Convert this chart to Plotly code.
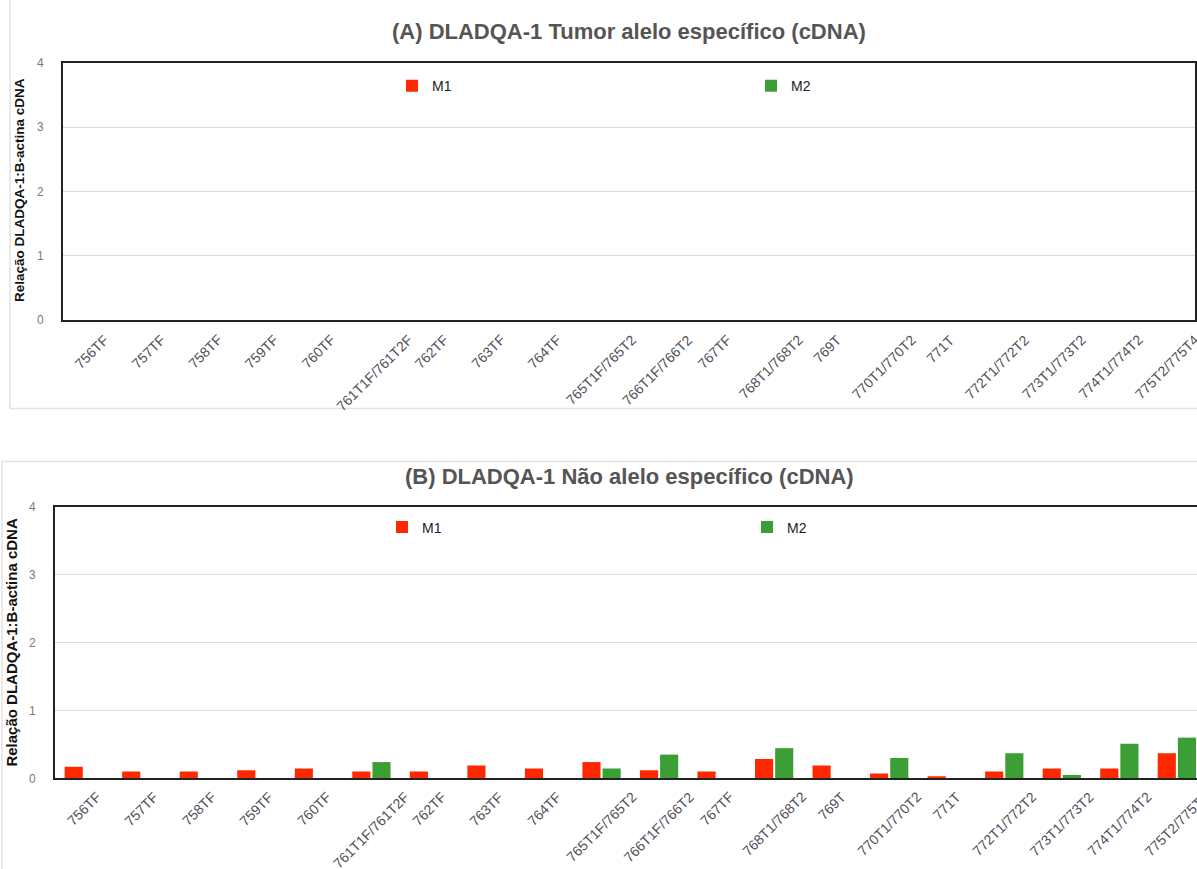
import plotly.graph_objects as go

W, H = 1197, 869

categories = [
    "756TF", "757TF", "758TF", "759TF", "760TF", "761T1F/761T2F", "762TF",
    "763TF", "764TF", "765T1F/765T2", "766T1F/766T2", "767TF", "768T1/768T2",
    "769T", "770T1/770T2", "771T", "772T1/772T2", "773T1/773T2",
    "774T1/774T2", "775T2/775T4",
]

# (A) allele-specific tumour expression: no detectable signal
a_m1 = [0.0] * 20
a_m2 = [0.0] * 20

# (B) non allele-specific expression
b_m1 = [0.17, 0.10, 0.10, 0.12, 0.145, 0.10, 0.10, 0.19, 0.145, 0.24,
        0.12, 0.10, 0.285, 0.19, 0.07, 0.03, 0.10, 0.145, 0.145, 0.37]
b_m2 = [None, None, None, None, None, 0.24, None, None, None, 0.145,
        0.35, None, 0.445, None, 0.30, None, 0.37, 0.05, 0.51, 0.60]

y_ticks = [0, 1, 2, 3, 4]

title_a = "(A) DLADQA-1 Tumor alelo específico (cDNA)"
title_b = "(B) DLADQA-1 Não alelo específico (cDNA)"
y_title = "Relação DLADQA-1:B-actina cDNA"

RED = "#ff2800"
GREEN = "#3c9f36"
FONT = "Liberation Sans, Arial, sans-serif"


def px_x(v):
    return v / W


def px_y(v):
    return 1 - v / H


fig = go.Figure()

fig.add_trace(go.Bar(x=categories, y=a_m1, name="M1", marker_color=RED,
                     marker_line_width=0, xaxis="x", yaxis="y", legend="legend"))
fig.add_trace(go.Bar(x=categories, y=a_m2, name="M2", marker_color=GREEN,
                     marker_line_width=0, xaxis="x", yaxis="y", legend="legend2"))
fig.add_trace(go.Bar(x=categories, y=b_m1, name="M1", marker_color=RED,
                     marker_line_width=0, xaxis="x2", yaxis="y2", legend="legend3"))
fig.add_trace(go.Bar(x=categories, y=b_m2, name="M2", marker_color=GREEN,
                     marker_line_width=0, xaxis="x2", yaxis="y2", legend="legend4"))

axis_common = dict(showline=True, linecolor="#222", linewidth=2, zeroline=False)

xa = dict(type="category", showticklabels=False, ticks="", showgrid=False,
          mirror=True, fixedrange=True, **axis_common)
ya = dict(range=[0, 4], tickvals=y_ticks, showgrid=True, gridcolor="#dcdcdc",
          gridwidth=1, ticks="", ticklabelstandoff=15,
          tickfont=dict(size=12, color="#7a7a7a", family=FONT), **axis_common)

legend_common = dict(orientation="h", yanchor="middle", xanchor="left",
                     bgcolor="rgba(0,0,0,0)",
                     font=dict(size=14, color="#222", family=FONT))

fig.update_layout(
    width=W, height=H,
    margin=dict(l=0, r=0, t=0, b=0),
    paper_bgcolor="white", plot_bgcolor="white",
    font=dict(family=FONT),
    barmode="group", bargap=0.30, bargroupgap=0.10,
    xaxis=dict(domain=[px_x(63), px_x(1195)], anchor="y",
               range=[-0.5, 19.5], **xa),
    yaxis=dict(domain=[px_y(318), px_y(57)], anchor="x", mirror=True, **ya),
    xaxis2=dict(domain=[px_x(55), 1.0], anchor="y2",
                range=[-0.5, 19.35], **xa),
    yaxis2=dict(domain=[px_y(784), px_y(508)], anchor="x2", mirror=False, **ya),
    legend=dict(x=px_x(392), y=px_y(80.5), **legend_common),
    legend2=dict(x=px_x(751), y=px_y(80.5), **legend_common),
    legend3=dict(x=px_x(382), y=px_y(529), **legend_common),
    legend4=dict(x=px_x(747), y=px_y(529), **legend_common),
    showlegend=True,
)

# card outlines around each panel
fig.add_shape(type="rect", xref="paper", yref="paper",
              x0=px_x(10), x1=1.02, y0=px_y(408), y1=1.05,
              line=dict(color="#e2e2e2", width=1.5), layer="below")
fig.add_shape(type="rect", xref="paper", yref="paper",
              x0=px_x(2), x1=1.02, y0=-0.05, y1=px_y(462),
              line=dict(color="#e2e2e2", width=1.5), layer="below")

annotations = []
# panel titles
for txt, ypix in [(title_a, 25), (title_b, 477)]:
    annotations.append(dict(text=f"<b>{txt}</b>", xref="paper", yref="paper",
                            x=px_x(629), y=px_y(ypix), xanchor="center",
                            yanchor="middle", showarrow=False,
                            font=dict(size=22, color="#555", family=FONT)))
# y axis titles
for xpix, ypix, size in [(19, 186, 13.5), (12, 646, 15)]:
    annotations.append(dict(text=f"<b>{y_title}</b>", xref="paper", yref="paper",
                            x=px_x(xpix), y=px_y(ypix), xanchor="center",
                            yanchor="middle", textangle=-90, showarrow=False,
                            font=dict(size=size, color="#111", family=FONT)))
# rotated category labels, centred under each category
for xref, yref, shift in [("x", "y", -9), ("x2", "y2", -8)]:
    for c in categories:
        annotations.append(dict(text=c, xref=xref, yref=yref, x=c, y=0,
                                xanchor="center", yanchor="top", yshift=shift,
                                textangle=-45, showarrow=False,
                                font=dict(size=14, color="#505058", family=FONT)))

fig.update_layout(annotations=annotations)

fig.write_html("out.html")
